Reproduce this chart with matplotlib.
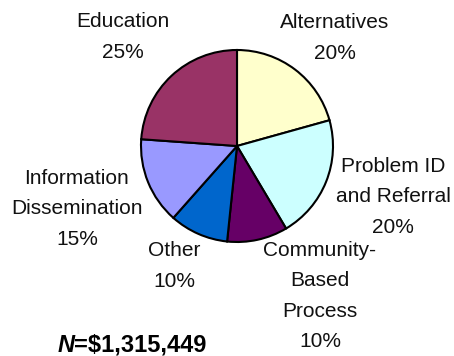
import matplotlib
matplotlib.use("Agg")
import matplotlib.pyplot as plt

plt.rcParams['font.family'] = ['Liberation Sans', 'DejaVu Sans']

# Data (clockwise from 12 o'clock)
categories = ["Alternatives", "Problem ID\nand Referral", "Community-\nBased\nProcess",
              "Other", "Information\nDissemination", "Education"]
shares = [20.7, 20.8, 10.2, 9.9, 14.6, 23.9]
pct_labels = ["20%", "20%", "10%", "10%", "15%", "25%"]
colors = ["#FFFFCC", "#CCFFFF", "#660066", "#0066CC", "#9999FF", "#993366"]
total_label = "=$1,315,449"

# label block centres in pixels (x, y from top)
label_pos = [(335, 38), (393, 197), (320, 296), (174, 266), (77, 209), (123, 37)]

W, H = 454, 356
fig = plt.figure(figsize=(W / 100, H / 100), dpi=100)
ax = fig.add_axes([0, 0, 1, 1])

ax.pie(shares, colors=colors, startangle=90, counterclock=False,
       center=(237, H - 146), radius=96,
       wedgeprops=dict(edgecolor='black', linewidth=1.5))
ax.set_xlim(0, W)
ax.set_ylim(0, H)
ax.axis('off')

for name, pct, (x, y) in zip(categories, pct_labels, label_pos):
    ax.text(x, H - y, name + "\n" + pct, ha='center', va='center',
            multialignment='center', fontsize=15, linespacing=1.75, color='#111111')

# total
n = ax.text(58, H - 345, "N", ha='left', va='center', fontsize=17,
            fontweight='bold', fontstyle='italic')
fig.canvas.draw()
bb = n.get_window_extent()
x_end = ax.transData.inverted().transform((bb.x1, bb.y0))[0]
ax.text(x_end - 1, H - 345, total_label, ha='left', va='center', fontsize=17,
        fontweight='bold')

fig.savefig("out.png", dpi=100)
